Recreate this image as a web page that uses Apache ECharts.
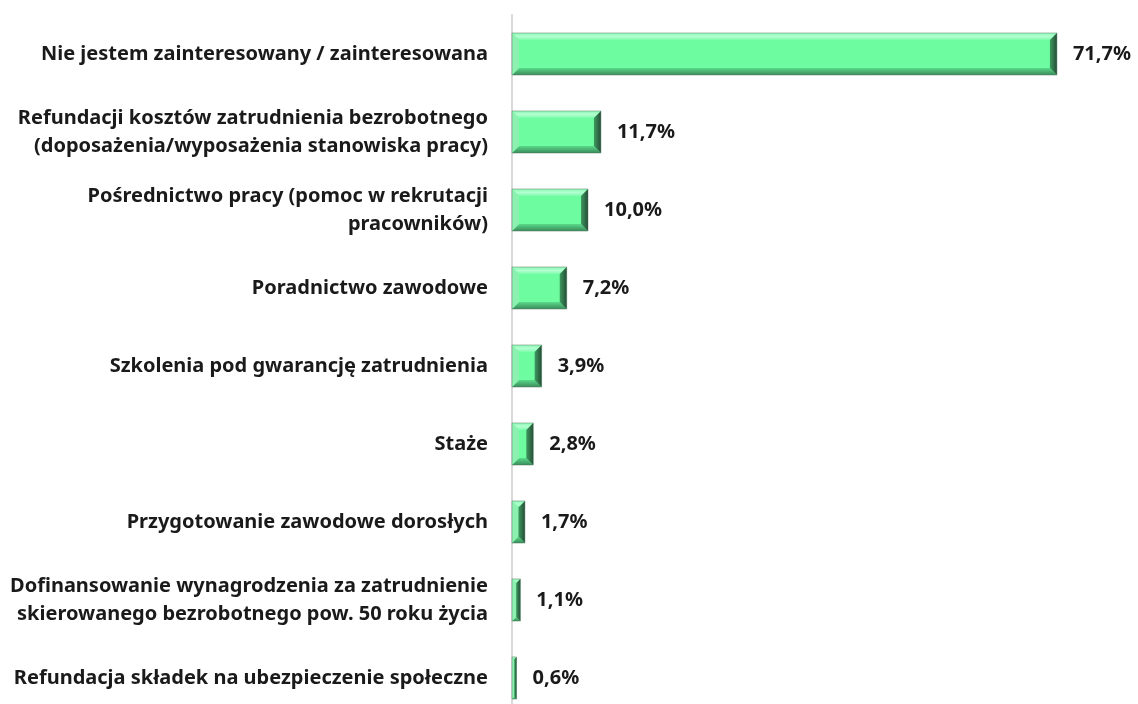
<!DOCTYPE html>
<html><head><meta charset="utf-8">
<script src="https://cdn.jsdelivr.net/npm/echarts@6/dist/echarts.min.js"></script>
<style>html,body{margin:0;padding:0;background:#fff;overflow:hidden}#c{width:1138px;height:720px}</style>
</head><body><div id="c"></div>
<script>
const categories = [
  "Nie jestem zainteresowany / zainteresowana",
  "Refundacji kosztów zatrudnienia bezrobotnego\n(doposażenia/wyposażenia stanowiska pracy)",
  "Pośrednictwo pracy (pomoc w rekrutacji\npracowników)",
  "Poradnictwo zawodowe",
  "Szkolenia pod gwarancję zatrudnienia",
  "Staże",
  "Przygotowanie zawodowe dorosłych",
  "Dofinansowanie wynagrodzenia za zatrudnienie\nskierowanego bezrobotnego pow. 50 roku życia",
  "Refundacja składek na ubezpieczenie społeczne"
];
const values = [71.7, 11.7, 10.0, 7.2, 3.9, 2.8, 1.7, 1.1, 0.6];

const chart = echarts.init(document.getElementById('c'));
const FONT = '"Noto Sans", sans-serif';

function renderItem(params, api) {
  const idx = api.value(0);
  const v = api.value(1);
  const p0 = api.coord([0, idx]);
  const p1 = api.coord([v, idx]);
  const h = api.size([0, 1])[1] * 0.54;
  const x0 = p0[0], x1 = p1[0];
  const y0 = p0[1] - h / 2, y1 = p0[1] + h / 2;
  const w = x1 - x0;
  const b = Math.min(7, w / 2, h / 2);
  const children = [
    {type: 'rect', shape: {x: x0, y: y0, width: w, height: h}, style: {fill: '#6dfda0'}},
    {type: 'polygon', shape: {points: [[x0, y0], [x1, y0], [x1 - b, y0 + b], [x0 + b, y0 + b]]},
      style: {fill: new echarts.graphic.LinearGradient(0, 0, 0, 1, [
        {offset: 0, color: '#86f7ae'}, {offset: 0.5, color: '#b4ffd2'}, {offset: 1, color: '#7dfcaa'}])}},
    {type: 'polygon', shape: {points: [[x0, y1], [x1, y1], [x1 - b, y1 - b], [x0 + b, y1 - b]]},
      style: {fill: new echarts.graphic.LinearGradient(0, 0, 0, 1, [
        {offset: 0, color: '#5ad98a'}, {offset: 1, color: '#3a8a5a'}])}},
    {type: 'polygon', shape: {points: [[x0, y0], [x0 + b, y0 + b], [x0 + b, y1 - b], [x0, y1]]},
      style: {fill: '#8cf0b0'}},
    {type: 'polygon', shape: {points: [[x1, y0], [x1 - b, y0 + b], [x1 - b, y1 - b], [x1, y1]]},
      style: {fill: new echarts.graphic.LinearGradient(0, 0, 1, 0, [
        {offset: 0, color: '#3e9a60'}, {offset: 1, color: '#254d36'}])}},
    {type: 'rect', shape: {x: x0, y: y0, width: w, height: h},
      style: {fill: 'none', stroke: 'rgba(90,120,100,0.45)', lineWidth: 1}},
    {type: 'text', x: x1 + 16, y: p0[1],
      style: {text: v.toFixed(1).replace('.', ',') + '%', fill: '#1a1a1a',
        font: 'bold 20px ' + FONT, verticalAlign: 'middle', align: 'left'}}
  ];
  return {type: 'group', children: children};
}

chart.setOption({
  animation: false,
  grid: {left: 512, right: 18, top: 15, height: 702, containLabel: false},
  xAxis: {type: 'value', min: 0, max: 80, show: false},
  yAxis: {
    type: 'category', data: categories, inverse: true,
    axisLine: {show: true, lineStyle: {color: '#d9d9d9', width: 2}},
    axisTick: {show: false},
    axisLabel: {margin: 24, color: '#1a1a1a', fontWeight: 'bold', fontSize: 20,
      fontFamily: FONT, align: 'right', lineHeight: 28}
  },
  series: [{
    type: 'custom', renderItem: renderItem,
    encode: {x: 1, y: 0},
    data: values.map((v, i) => [i, v])
  }]
});
</script></body></html>
